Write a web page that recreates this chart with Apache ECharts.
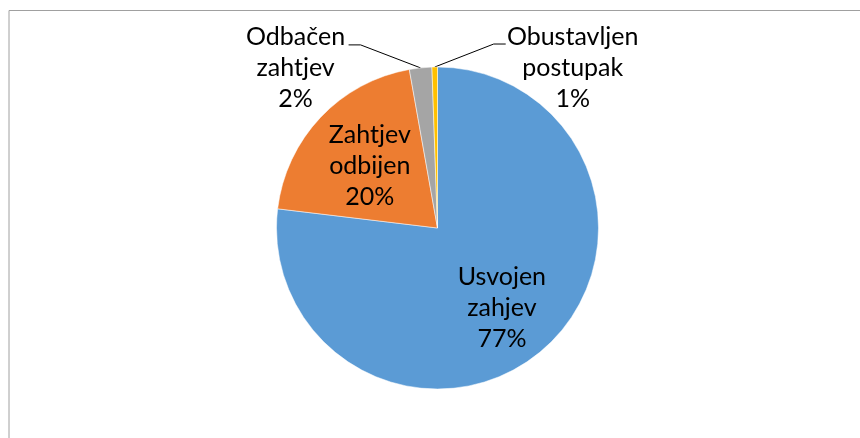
<!DOCTYPE html>
<html>
<head>
<meta charset="utf-8">
<script src="https://cdn.jsdelivr.net/npm/echarts@6/dist/echarts.min.js"></script>
<style>
    html, body { margin: 0; padding: 0; background: #fff; }
    #chart { width: 860px; height: 438px; }
</style>
</head>
<body>
<div id="chart"></div>
<script>
// podaci
const categories = ['Usvojen\nzahjev', 'Zahtjev\nodbijen', 'Odbačen\nzahtjev', 'Obustavljen\npostupak'];
const values = [76.9, 20.3, 2.25, 0.55];
const colors = ['#5B9BD5', '#ED7D31', '#A5A5A5', '#FFC000'];

const myChart = echarts.init(document.getElementById('chart'));

// pomak unutarnjih natpisa (Excel ih stavlja malo dalje od centra)
const insideShift = [[9, 17], [-7, -5]];

myChart.setOption({
    animation: false,
    color: colors,
    graphic: [
        {
            type: 'rect',
            shape: { x: 9, y: 10.5, width: 900, height: 500 },
            style: { fill: 'none', stroke: '#a0a0a0', lineWidth: 1 },
            silent: true
        }
    ],
    series: [
        {
            type: 'pie',
            center: [437.5, 228],
            radius: 161,
            startAngle: 90,
            clockwise: true,
            avoidLabelOverlap: false,
            percentPrecision: 0,
            itemStyle: { borderColor: '#fff', borderWidth: 0.5 },
            label: {
                formatter: '{b}\n{d}%',
                fontFamily: 'Lato',
                fontSize: 25,
                lineHeight: 31,
                color: '#000',
                align: 'center'
            },
            labelLine: {
                lineStyle: { color: '#000', width: 1 },
                length: 20,
                length2: 10
            },
            data: categories.map((name, i) => ({
                name: name,
                value: values[i],
                label: { position: i < 2 ? 'inside' : 'outside' },
                labelLine: { show: i >= 2 }
            })),
            labelLayout: function (params) {
                const i = params.dataIndex;
                if (i < 2) {
                    return { dx: insideShift[i][0], dy: insideShift[i][1] };
                }
                const p = params.labelLinePoints[0];
                const ly = p[1] - 23;
                if (i === 2) {
                    return {
                        x: p[0] - 125,
                        y: ly - 23,
                        align: 'center',
                        verticalAlign: 'top',
                        labelLinePoints: [p, [p[0] - 60, ly], [p[0] - 72, ly]]
                    };
                }
                return {
                    x: p[0] + 138,
                    y: ly - 23,
                    align: 'center',
                    verticalAlign: 'top',
                    labelLinePoints: [p, [p[0] + 59, ly], [p[0] + 71, ly]]
                };
            }
        }
    ]
});
</script>
</body>
</html>
